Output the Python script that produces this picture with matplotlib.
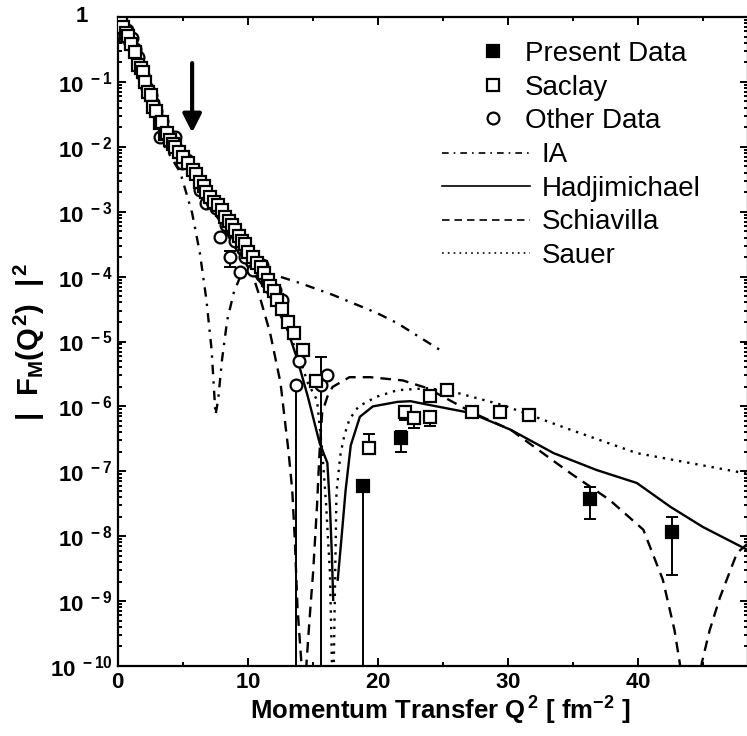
import matplotlib
matplotlib.use("Agg")
import matplotlib.pyplot as plt
import numpy as np
from matplotlib.ticker import (LogLocator, MultipleLocator, FixedLocator, FuncFormatter,
                               NullFormatter)
from matplotlib.lines import Line2D

plt.rcParams['font.family'] = ['Liberation Sans', 'DejaVu Sans']
plt.rcParams['mathtext.fontset'] = 'custom'
plt.rcParams['mathtext.rm'] = 'Liberation Sans:bold'
plt.rcParams['mathtext.it'] = 'Liberation Sans:bold'
plt.rcParams['mathtext.bf'] = 'Liberation Sans:bold'

# data values are read as log10 |F_M(Q^2)|^2
# present data (filled squares), with upper / lower error limits
q2_present = [18.85, 21.8, 36.3, 42.6]
lg_present = [-7.23, -6.49, -7.43, -7.94]
lg_present_hi = [-7.18, -6.38, -7.24, -7.70]
lg_present_lo = [-12.0, -6.70, -7.73, -8.60]

# Saclay (open squares)
q2_saclay = [0.2, 0.4, 0.6, 0.8, 1.0, 1.3, 1.55, 1.75, 1.9, 2.1, 2.3, 2.5, 2.7, 2.95, 3.2,
             3.4, 3.6, 3.8, 4.0, 4.2, 4.4, 4.7, 5.0, 5.4, 5.8, 6.0, 6.3, 6.6, 6.8, 7.1,
             7.4, 7.7, 8.0, 8.2, 8.5, 8.8, 9.0, 9.3, 9.5, 9.8, 10.0, 10.4, 10.7, 11.0,
             11.2, 11.5, 11.7, 12.0, 12.2, 12.6, 13.1, 13.5, 14.2, 15.2, 19.3, 22.1, 22.8,
             24.0, 24.0, 25.3, 27.2, 29.4, 31.6]
lg_saclay = [-0.1, -0.15, -0.25, -0.3, -0.42, -0.54, -0.74, -0.78, -0.85, -1.0, -1.15, -1.2,
             -1.39, -1.45, -1.63, -1.62, -1.8, -1.78, -1.9, -1.95, -2.0, -2.08, -2.15, -2.25,
             -2.36, -2.42, -2.55, -2.6, -2.69, -2.78, -2.85, -2.9, -2.97, -3.08, -3.15,
             -3.2, -3.28, -3.38, -3.45, -3.5, -3.62, -3.7, -3.79, -3.85, -3.95, -4.05, -4.15,
             -4.22, -4.36, -4.5, -4.70, -4.87, -5.13, -5.61, -6.64, -6.09, -6.18, -6.16,
             -5.84, -5.75, -6.09, -6.09, -6.13]
q2_saclay_err = [19.3, 22.1, 22.8, 24.0]
lg_saclay_err = [-6.64, -6.09, -6.18, -6.16]
lg_saclay_hi = [-6.42, -6.06, -6.15, -6.13]
lg_saclay_lo = [-6.73, -6.21, -6.33, -6.30]

# other data (open circles)
q2_other = [0.2, 0.4, 0.7, 0.9, 1.08, 1.3, 1.5, 1.7, 1.95, 2.2, 2.5, 2.7, 2.9, 3.2, 3.4,
            3.6, 3.8, 4.0, 4.2, 4.4, 4.6, 4.9, 5.3, 5.8, 6.3, 6.5, 6.8, 7.2, 7.5, 7.85,
            8.3, 8.6, 9.0, 9.4, 9.8, 10.4, 11.1, 11.6, 12.1, 12.6, 13.7, 13.9, 15.6, 16.1]
lg_other = [-0.12, -0.3, -0.2, -0.4, -0.33, -0.5, -0.62, -0.75, -0.9, -1.09, -1.2, -1.32,
            -1.45, -1.85, -1.6, -1.75, -1.8, -1.85, -1.88, -1.85, -2.05, -2.25, -2.2, -2.35,
            -2.67, -2.6, -2.87, -2.85, -2.95, -3.39, -3.2, -3.70, -3.45, -3.93, -3.7, -3.9,
            -3.82, -4.1, -4.2, -4.36, -5.67, -5.30, -5.67, -5.52]
q2_other_err = [8.6, 13.7, 15.6]
lg_other_err = [-3.70, -5.67, -5.67]
lg_other_hi = [-3.60, -5.67, -5.24]
lg_other_lo = [-3.85, -12.0, -12.0]

# IA (dash-dot)
q2_ia = [0, 1, 2, 3, 3.6, 4.8, 5.7, 6.3, 6.8, 7.2, 7.5, 7.7, 8.0, 8.4, 8.9, 9.4, 10.0,
         11.5, 14.0, 16.5, 19.9, 21.5, 25.0]
lg_ia = [0, -0.45, -1.0, -1.6, -2.0, -2.4, -3.02, -3.64, -4.36, -5.13, -6.13, -5.9, -5.28,
         -4.67, -4.25, -4.0, -3.93, -3.94, -4.1, -4.28, -4.56, -4.72, -5.16]

# Hadjimichael (solid), two branches around the zero
q2_hadj_a = [0, 1, 2, 3, 4, 5, 6, 7, 8, 9, 10, 11, 12, 13, 13.8, 14.6, 15.5, 16.1, 16.3,
             16.45, 16.55]
lg_hadj_a = [0, -0.5, -1.05, -1.55, -1.92, -2.22, -2.55, -2.87, -3.2, -3.55, -3.85, -4.1,
             -4.4, -4.8, -5.28, -5.85, -6.56, -6.87, -7.55, -8.3, -8.98]
q2_hadj_b = [16.9, 17.2, 17.5, 17.9, 18.6, 19.6, 21.5, 22.5, 24.0, 27.1, 30.2, 33.5, 36.8,
             39.9, 42.5, 45.0, 48.5]
lg_hadj_b = [-8.67, -8.0, -7.3, -6.6, -6.16, -6.0, -5.93, -5.92, -5.98, -6.1, -6.36, -6.72,
             -6.98, -7.18, -7.55, -7.86, -8.22]

# Schiavilla (dashed)
q2_schi = [0, 1, 2, 3, 4, 5, 6, 7, 8, 9, 10.0, 10.9, 11.7, 12.5, 12.8, 13.1, 13.4, 13.6,
           13.8, 14.1, 14.3, 14.35, 14.5, 14.8, 15.0, 15.3, 15.5, 15.7, 16.1, 16.5, 17.8,
           19.4, 21.9, 23.8, 27.3, 30.2, 34.8, 37.8, 40.4, 41.9, 42.8, 43.2, 43.8, 44.3,
           44.9, 45.5, 46.3, 47.6, 48.5]
lg_schi = [0, -0.5, -1.05, -1.55, -1.92, -2.22, -2.55, -2.87, -3.2, -3.5, -3.75, -4.31,
           -4.87, -5.64, -6.16, -6.67, -7.29, -8.06, -9.09, -9.94, -11, -11, -9.94, -9.09,
           -8.57, -7.55, -6.7, -6.1, -5.85, -5.7, -5.55, -5.55, -5.6, -5.72, -6.1, -6.36,
           -7.03, -7.44, -7.9, -8.67, -9.45, -9.95, -11, -11, -9.95, -9.45, -8.94, -8.26,
           -8.1]

# Sauer (dotted)
q2_sauer = [0, 1, 2, 3, 4, 5, 6, 7, 8, 9, 10, 11, 12, 13, 14.0, 14.6, 15.3, 15.7, 16.0,
            16.3, 16.45, 16.5, 16.55, 16.6, 16.8, 17.1, 17.4, 17.8, 18.5, 19.9, 21.5, 23.8,
            25.5, 29.6, 34.8, 39.9, 48.5]
lg_sauer = [0, -0.5, -1.05, -1.55, -1.92, -2.22, -2.55, -2.87, -3.2, -3.55, -3.85, -4.1,
            -4.4, -4.8, -5.28, -5.64, -5.9, -6.67, -7.5, -8.57, -9.94, -11, -11, -9.9,
            -7.33, -6.75, -6.45, -6.2, -6.0, -5.85, -5.75, -5.72, -5.76, -5.98, -6.36,
            -6.72, -7.04]

# y axis decades shown
y_decades = [-10, -9, -8, -7, -6, -5, -4, -3, -2, -1, 0]


def lin(v):
    return 10.0 ** np.asarray(v, dtype=float)


fig = plt.figure(figsize=(7.47, 7.36), dpi=100)
ax = fig.add_axes([118 / 747, 70 / 736, 630 / 747, 649 / 736])

lw = 1.7
ax.plot(q2_ia, lin(lg_ia), color='black', lw=lw, linestyle=(0, (4, 3, 1, 3)))
ax.plot(q2_hadj_a, lin(lg_hadj_a), color='black', lw=lw, linestyle='-')
ax.plot(q2_hadj_b, lin(lg_hadj_b), color='black', lw=lw, linestyle='-')
ax.plot(q2_schi, lin(lg_schi), color='black', lw=lw, linestyle=(0, (4.5, 3)))
ax.plot(q2_sauer, lin(lg_sauer), color='black', lw=lw, linestyle=(0, (1, 2.5)))

ms = 8.5
mew = 1.6
# error bars
y = lin(lg_other_err)
ax.errorbar(q2_other_err, y, yerr=[y - lin(lg_other_lo), lin(lg_other_hi) - y],
            fmt='none', ecolor='black', elinewidth=1.4, capsize=4, capthick=1.4)
y = lin(lg_saclay_err)
ax.errorbar(q2_saclay_err, y, yerr=[y - lin(lg_saclay_lo), lin(lg_saclay_hi) - y],
            fmt='none', ecolor='black', elinewidth=1.4, capsize=4, capthick=1.4)
y = lin(lg_present)
ax.errorbar(q2_present, y, yerr=[y - lin(lg_present_lo), lin(lg_present_hi) - y],
            fmt='none', ecolor='black', elinewidth=1.4, capsize=4, capthick=1.4)

ax.plot(q2_other, lin(lg_other), 'o', ms=ms, mfc='white', mec='black', mew=mew, zorder=4)
ax.plot(q2_saclay, lin(lg_saclay), 's', ms=ms, mfc='white', mec='black', mew=mew, zorder=4)
ax.plot(q2_present, lin(lg_present), 's', ms=ms, mfc='black', mec='black', mew=mew, zorder=5)

# arrow
ax.annotate('', xy=(5.7, 10 ** -1.78), xytext=(5.7, 10 ** -0.71),
            arrowprops=dict(arrowstyle='-|>,head_length=0.55,head_width=0.28',
                            mutation_scale=20, lw=3, color='black',
                            shrinkA=0, shrinkB=0))

ax.set_yscale('log')
ax.set_xlim(0, 48.45)
ax.set_ylim(1e-10, 1)

ax.xaxis.set_major_locator(FixedLocator([0, 10, 20, 30, 40]))
ax.xaxis.set_minor_locator(FixedLocator([5, 15, 25, 35, 45]))
ax.yaxis.set_major_locator(FixedLocator(lin(y_decades)))
ax.yaxis.set_minor_locator(LogLocator(base=10, subs=np.arange(2, 10), numticks=200))
ax.yaxis.set_minor_formatter(NullFormatter())
ax.xaxis.set_minor_formatter(NullFormatter())


def ylab(v, pos):
    e = int(round(np.log10(v)))
    if e == 0:
        return ''
    return r'$10^{\ %d}$' % e


ax.yaxis.set_major_formatter(FuncFormatter(ylab))
ax.xaxis.set_major_formatter(FuncFormatter(lambda v, p: r'$%d$' % v))
# the "1" at the top sits under the "10"s, not flush with the exponents
ax.text(-0.048, 1.0, '1', transform=ax.transAxes, ha='right', va='center',
        fontsize=16, fontweight='bold')

ax.tick_params(which='both', direction='in', top=True, right=True, width=1.4)
ax.tick_params(which='major', length=6, labelsize=16, pad=4)
ax.tick_params(which='minor', length=3)
for s in ax.spines.values():
    s.set_linewidth(1.6)

ax.set_xlabel(r'Momentum Transfer Q$^{\,2}$ [ fm$^{-2}$ ]', fontsize=18.5, fontweight='bold')
ax.xaxis.set_label_coords(0.511, -0.045)
ax.set_ylabel(r'$|\ \ F_M(Q^2)\ \ |^{\,2}$', fontsize=21)
ax.yaxis.set_label_coords(-0.112, 0.5)

# legend: markers then lines
mk_handles = [Line2D([], [], marker='s', ls='none', ms=ms, mfc='black', mec='black', mew=mew),
              Line2D([], [], marker='s', ls='none', ms=ms, mfc='white', mec='black', mew=mew),
              Line2D([], [], marker='o', ls='none', ms=ms, mfc='white', mec='black', mew=mew)]
leg1 = ax.legend(mk_handles, ['Present Data', 'Saclay', 'Other Data'],
                 loc='upper left', bbox_to_anchor=(0.578, 0.963), frameon=False,
                 fontsize=20, handlelength=0.8, handletextpad=0.75, labelspacing=0.27,
                 borderpad=0, borderaxespad=0)
ax.add_artist(leg1)
ln_handles = [Line2D([], [], color='black', lw=1.2, linestyle=(0, (4, 3, 1, 3))),
              Line2D([], [], color='black', lw=1.2, linestyle='-'),
              Line2D([], [], color='black', lw=1.2, linestyle=(0, (4.5, 3))),
              Line2D([], [], color='black', lw=1.2, linestyle=(0, (1, 2.5)))]
ax.legend(ln_handles, ['IA', 'Hadjimichael', 'Schiavilla', 'Sauer'],
          loc='upper left', bbox_to_anchor=(0.514, 0.807), frameon=False,
          fontsize=20, handlelength=3.17, handletextpad=0.43, labelspacing=0.27,
          borderpad=0, borderaxespad=0)

fig.savefig('out.png', dpi=100)
